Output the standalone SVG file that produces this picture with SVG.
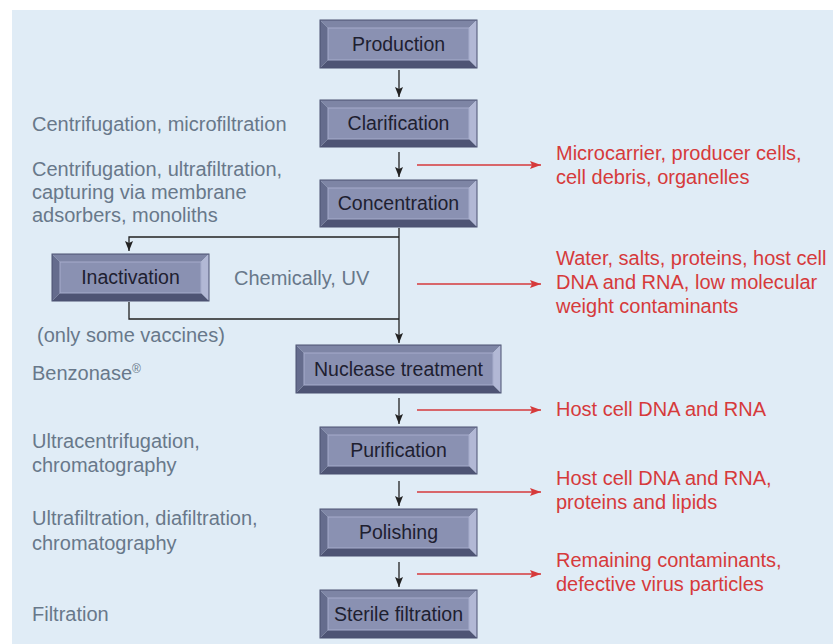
<svg xmlns="http://www.w3.org/2000/svg" width="833" height="644" viewBox="0 0 833 644">
<defs>
<style>
.bt{fill:#7e85a5}.bl{fill:#656c8d}.br{fill:#b2b8d5}.bb{fill:#4e5474}
.in{fill:#8a91b2;stroke:#a6accc;stroke-width:1}
.ol{fill:none;stroke:#4a5070;stroke-width:1}
.lbl{font-family:"Liberation Sans",Arial,sans-serif;font-size:19.5px;fill:#1e2030;text-anchor:middle}
.g{font-family:"Liberation Sans",Arial,sans-serif;font-size:20px;fill:#68788a}
.r{font-family:"Liberation Sans",Arial,sans-serif;font-size:20px;fill:#d63a3b}
.k{fill:none;stroke:#222;stroke-width:1.3}
.rl{fill:none;stroke:#d63a3b;stroke-width:1.5}
</style>
<marker id="ak" viewBox="0 0 10 8" refX="10" refY="4" markerWidth="10" markerHeight="8" markerUnits="userSpaceOnUse" orient="auto">
<path d="M0,0 L10,4 L0,8 L2,4 Z" fill="#222"/>
</marker>
<marker id="ar" viewBox="0 0 11 8" refX="11" refY="4" markerWidth="11" markerHeight="8" markerUnits="userSpaceOnUse" orient="auto">
<path d="M0,0 L11,4 L0,8 L2,4 Z" fill="#d63a3b"/>
</marker>
</defs>
<rect x="12" y="10" width="821" height="634" fill="#e0ecf6"/>

<g id="production">
<polygon class="bt" points="320,20 477,20 469,28 328,28"/>
<polygon class="bl" points="320,20 328,28 328,60 320,68"/>
<polygon class="br" points="477,20 477,68 469,60 469,28"/>
<polygon class="bb" points="320,68 477,68 469,60 328,60"/>
<rect class="in" x="328" y="28" width="141" height="32"/>
<rect class="ol" x="320" y="20" width="157" height="48"/>
<text class="lbl" x="398.5" y="51">Production</text>
</g>
<g id="clarification">
<polygon class="bt" points="320,100 477,100 469,108 328,108"/>
<polygon class="bl" points="320,100 328,108 328,139 320,147"/>
<polygon class="br" points="477,100 477,147 469,139 469,108"/>
<polygon class="bb" points="320,147 477,147 469,139 328,139"/>
<rect class="in" x="328" y="108" width="141" height="31"/>
<rect class="ol" x="320" y="100" width="157" height="47"/>
<text class="lbl" x="398.5" y="130">Clarification</text>
</g>
<g id="concentration">
<polygon class="bt" points="320,180 477,180 469,188 328,188"/>
<polygon class="bl" points="320,180 328,188 328,219 320,227"/>
<polygon class="br" points="477,180 477,227 469,219 469,188"/>
<polygon class="bb" points="320,227 477,227 469,219 328,219"/>
<rect class="in" x="328" y="188" width="141" height="31"/>
<rect class="ol" x="320" y="180" width="157" height="47"/>
<text class="lbl" x="398.5" y="210">Concentration</text>
</g>
<g id="inactivation">
<polygon class="bt" points="52,254 209,254 201,262 60,262"/>
<polygon class="bl" points="52,254 60,262 60,293 52,301"/>
<polygon class="br" points="209,254 209,301 201,293 201,262"/>
<polygon class="bb" points="52,301 209,301 201,293 60,293"/>
<rect class="in" x="60" y="262" width="141" height="31"/>
<rect class="ol" x="52" y="254" width="157" height="47"/>
<text class="lbl" x="130.5" y="284">Inactivation</text>
</g>
<g id="nuclease">
<polygon class="bt" points="296,345 501,345 493,353 304,353"/>
<polygon class="bl" points="296,345 304,353 304,385 296,393"/>
<polygon class="br" points="501,345 501,393 493,385 493,353"/>
<polygon class="bb" points="296,393 501,393 493,385 304,385"/>
<rect class="in" x="304" y="353" width="189" height="32"/>
<rect class="ol" x="296" y="345" width="205" height="48"/>
<text class="lbl" x="398.5" y="376">Nuclease treatment</text>
</g>
<g id="purification">
<polygon class="bt" points="320,427 477,427 469,435 328,435"/>
<polygon class="bl" points="320,427 328,435 328,466 320,474"/>
<polygon class="br" points="477,427 477,474 469,466 469,435"/>
<polygon class="bb" points="320,474 477,474 469,466 328,466"/>
<rect class="in" x="328" y="435" width="141" height="31"/>
<rect class="ol" x="320" y="427" width="157" height="47"/>
<text class="lbl" x="398.5" y="457">Purification</text>
</g>
<g id="polishing">
<polygon class="bt" points="320,509 477,509 469,517 328,517"/>
<polygon class="bl" points="320,509 328,517 328,548 320,556"/>
<polygon class="br" points="477,509 477,556 469,548 469,517"/>
<polygon class="bb" points="320,556 477,556 469,548 328,548"/>
<rect class="in" x="328" y="517" width="141" height="31"/>
<rect class="ol" x="320" y="509" width="157" height="47"/>
<text class="lbl" x="398.5" y="539">Polishing</text>
</g>
<g id="sterile">
<polygon class="bt" points="320,590 477,590 469,598 328,598"/>
<polygon class="bl" points="320,590 328,598 328,630 320,638"/>
<polygon class="br" points="477,590 477,638 469,630 469,598"/>
<polygon class="bb" points="320,638 477,638 469,630 328,630"/>
<rect class="in" x="328" y="598" width="141" height="32"/>
<rect class="ol" x="320" y="590" width="157" height="48"/>
<text class="lbl" x="398.5" y="621">Sterile filtration</text>
</g>

<g id="connectors">
<line class="k" x1="399" y1="70" x2="399" y2="97" marker-end="url(#ak)"/>
<line class="k" x1="399" y1="152" x2="399" y2="177" marker-end="url(#ak)"/>
<line class="k" x1="399" y1="228" x2="399" y2="343" marker-end="url(#ak)"/>
<polyline class="k" points="399,237 129,237 129,251" marker-end="url(#ak)"/>
<polyline class="k" points="129,302 129,319 399,319"/>
<line class="k" x1="399" y1="398" x2="399" y2="424" marker-end="url(#ak)"/>
<line class="k" x1="399" y1="481" x2="399" y2="506" marker-end="url(#ak)"/>
<line class="k" x1="399" y1="562" x2="399" y2="587" marker-end="url(#ak)"/>
<line class="rl" x1="417" y1="165" x2="541" y2="165" marker-end="url(#ar)"/>
<line class="rl" x1="417" y1="284" x2="541" y2="284" marker-end="url(#ar)"/>
<line class="rl" x1="417" y1="410" x2="541" y2="410" marker-end="url(#ar)"/>
<line class="rl" x1="417" y1="492" x2="541" y2="492" marker-end="url(#ar)"/>
<line class="rl" x1="417" y1="574" x2="541" y2="574" marker-end="url(#ar)"/>
</g>

<g id="left-notes">
<text class="g" x="32" y="131">Centrifugation, microfiltration</text>
<text class="g" x="32" y="176">Centrifugation, ultrafiltration,</text>
<text class="g" x="32" y="199">capturing via membrane</text>
<text class="g" x="32" y="222">adsorbers, monoliths</text>
<text class="g" x="234" y="285">Chemically, UV</text>
<text class="g" x="37" y="342">(only some vaccines)</text>
<text class="g" x="32" y="380">Benzonase<tspan font-size="12" dy="-7">®</tspan></text>
<text class="g" x="32" y="448">Ultracentrifugation,</text>
<text class="g" x="32" y="472">chromatography</text>
<text class="g" x="32" y="525">Ultrafiltration, diafiltration,</text>
<text class="g" x="32" y="550">chromatography</text>
<text class="g" x="32" y="621">Filtration</text>
</g>

<g id="right-notes">
<text class="r" x="556" y="160">Microcarrier, producer cells,</text>
<text class="r" x="556" y="184">cell debris, organelles</text>
<text class="r" x="556" y="265">Water, salts, proteins, host cell</text>
<text class="r" x="556" y="289">DNA and RNA, low molecular</text>
<text class="r" x="556" y="313">weight contaminants</text>
<text class="r" x="556" y="416">Host cell DNA and RNA</text>
<text class="r" x="556" y="485">Host cell DNA and RNA,</text>
<text class="r" x="556" y="509">proteins and lipids</text>
<text class="r" x="556" y="567">Remaining contaminants,</text>
<text class="r" x="556" y="591">defective virus particles</text>
</g>
</svg>
